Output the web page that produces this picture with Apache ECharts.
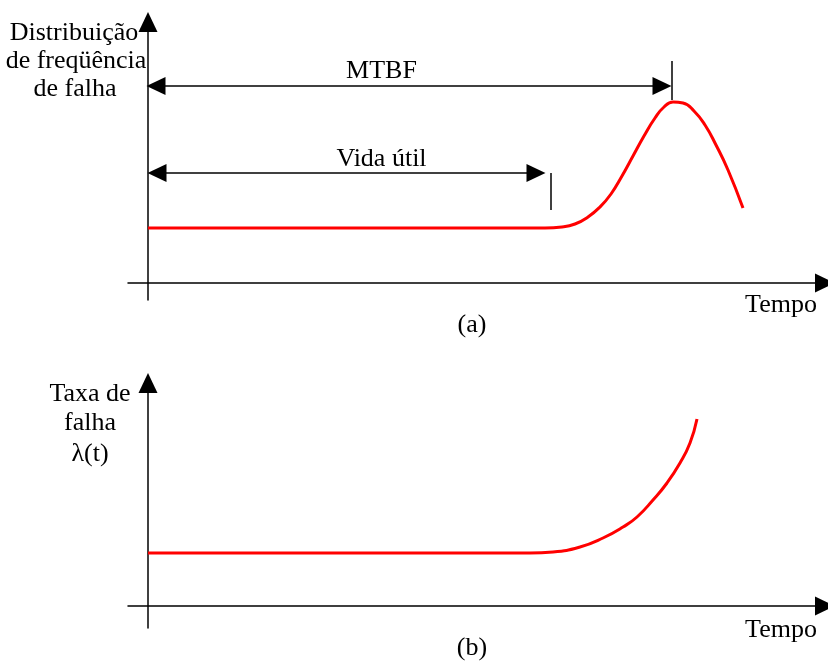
<!DOCTYPE html>
<html>
<head>
<meta charset="utf-8">
<script src="https://cdn.jsdelivr.net/npm/echarts@6/dist/echarts.min.js"></script>
<style>
  html, body { margin: 0; padding: 0; background: #fff; }
  #chart { width: 828px; height: 662px; }
</style>
</head>
<body>
<div id="chart"></div>
<script>
// ====================== 数据 (x: tempo, y: valor) ======================
// (a) distribuição de freqüência de falha
var curvaA = [
    [0, 55], [397, 55], [414, 56], [427, 59], [440, 66], [452, 76],
    [463, 89], [474, 107], [485, 127], [496, 147], [507, 165], [516, 176],
    [525, 181], [535, 180], [546, 172], [557, 158], [568, 138], [580, 113], [595, 75]
];
// (b) taxa de falha λ(t)
var curvaB = [
    [0, 53], [382, 53], [405, 54], [432, 59], [455, 68], [475, 79],
    [489, 89], [505, 106], [519, 123], [532, 143], [542, 163], [549, 187]
];
// cotas (setas e marcas)
var setaMTBF = [[8, 197], [514, 197]];
var marcaMTBF = [[524, 222], [524, 183]];
var setaVida = [[9, 110], [388, 110]];
var marcaVida = [[403, 110], [403, 73]];
// rótulos das cotas
var rotulos = [
    { name: 'MTBF', value: [234, 211] },
    { name: 'Vida útil', value: [234, 123] }
];

var FONT = 'Liberation Serif';
var TAM = 26;

function eixo(min, max) {
    return {
        type: 'value',
        min: min,
        max: max,
        axisLine: {
            onZero: true,
            symbol: ['none', 'triangle'],
            symbolSize: [19, 20],
            lineStyle: { color: '#000', width: 1.5 }
        },
        axisTick: { show: false },
        axisLabel: { show: false },
        splitLine: { show: false }
    };
}

function cota(p, temSeta) {
    var s = temSeta ? 'triangle' : 'none';
    return [
        { coord: p[0], symbol: s },
        { coord: p[1], symbol: s }
    ];
}

var texto = { fontFamily: FONT, fontSize: TAM, fill: '#000', textAlign: 'center', textVerticalAlign: 'middle' };
function txt(t, x, y) {
    return { type: 'text', x: x, y: y, silent: true, style: Object.assign({ text: t }, texto) };
}

var option = {
    animation: false,
    backgroundColor: '#fff',
    grid: [
        { left: 128, right: 3, top: 22, bottom: 362 },
        { left: 128, right: 3, top: 383, bottom: 34 }
    ],
    xAxis: [
        Object.assign(eixo(-20, 677), { gridIndex: 0 }),
        Object.assign(eixo(-20, 677), { gridIndex: 1 })
    ],
    yAxis: [
        Object.assign(eixo(-17, 261), { gridIndex: 0 }),
        Object.assign(eixo(-22, 223), { gridIndex: 1 })
    ],
    series: [
        {
            name: 'a',
            type: 'line',
            xAxisIndex: 0,
            yAxisIndex: 0,
            data: curvaA,
            smooth: 0.5,
            showSymbol: false,
            lineStyle: { color: '#ff0000', width: 3 },
            markLine: {
                silent: true,
                symbolSize: [18, 19],
                label: { show: false },
                lineStyle: { color: '#000', width: 1.5, type: 'solid' },
                itemStyle: { color: '#000' },
                data: [
                    cota(setaMTBF, true),
                    cota(marcaMTBF, false),
                    cota(setaVida, true),
                    cota(marcaVida, false)
                ]
            }
        },
        {
            name: 'rotulos',
            type: 'scatter',
            xAxisIndex: 0,
            yAxisIndex: 0,
            symbolSize: 1,
            silent: true,
            itemStyle: { color: 'rgba(0,0,0,0)' },
            data: rotulos,
            label: {
                show: true,
                position: [0, 0],
                align: 'center',
                verticalAlign: 'middle',
                formatter: '{b}',
                fontFamily: FONT,
                fontSize: TAM,
                color: '#000',
                opacity: 1
            }
        },
        {
            name: 'b',
            type: 'line',
            xAxisIndex: 1,
            yAxisIndex: 1,
            data: curvaB,
            smooth: 0.5,
            showSymbol: false,
            lineStyle: { color: '#ff0000', width: 3 }
        }
    ],
    graphic: [
        txt('Distribuição', 74, 33),
        txt('de freqüência', 76, 61),
        txt('de falha', 75, 89),
        txt('Tempo', 781, 305),
        txt('(a)', 472, 325),
        txt('Taxa de', 90, 394),
        txt('falha', 90, 423),
        txt('λ(t)', 90, 454),
        txt('Tempo', 781, 630),
        txt('(b)', 472, 648)
    ]
};

echarts.init(document.getElementById('chart')).setOption(option);
</script>
</body>
</html>
